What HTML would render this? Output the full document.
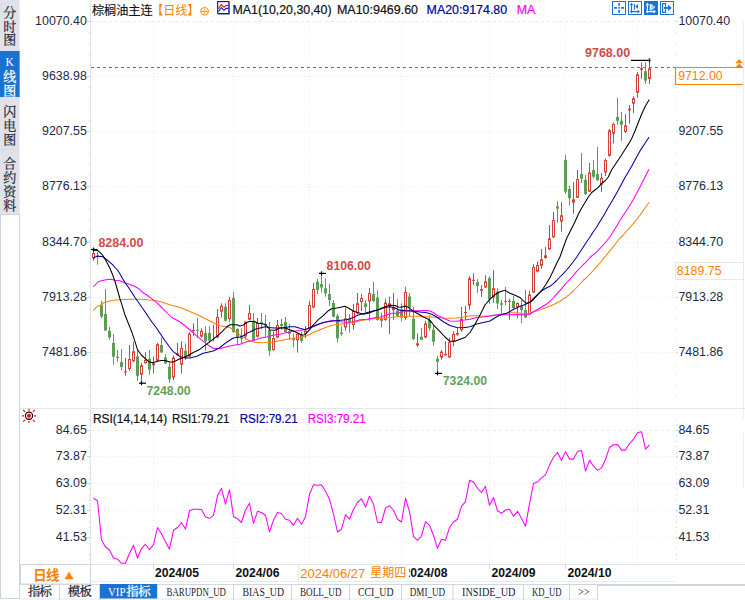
<!DOCTYPE html><html><head><meta charset="utf-8"><title>chart</title><style>html,body{margin:0;padding:0;background:#fff}body{width:745px;height:600px;overflow:hidden;font-family:"Liberation Sans",sans-serif}</style></head><body><svg width="745" height="600" viewBox="0 0 745 600" style="display:block">
<rect width="745" height="600" fill="#fff"/>
<rect x="0" y="0" width="19.6" height="214" fill="#e0e2ea"/>
<rect x="0" y="51" width="19.6" height="46" fill="#1a73d0"/>
<rect x="0" y="149" width="19.6" height="1" fill="#d5dde4"/>
<rect x="0.5" y="214.5" width="19" height="384" fill="#fff" stroke="#ccd4dd" stroke-width="1"/>
<text x="3.2" y="16.84" font-family="'Liberation Serif','Noto Serif CJK SC',serif" font-size="13" fill="#262c3a" stroke="#262c3a" stroke-width="0.25">分</text>
<text x="3.2" y="30.84" font-family="'Liberation Serif','Noto Serif CJK SC',serif" font-size="13" fill="#262c3a" stroke="#262c3a" stroke-width="0.25">时</text>
<text x="3.2" y="44.34" font-family="'Liberation Serif','Noto Serif CJK SC',serif" font-size="13" fill="#262c3a" stroke="#262c3a" stroke-width="0.25">图</text>
<text x="9.7" y="66.3" font-family="Liberation Serif" font-size="11.5" fill="#fff" text-anchor="middle">K</text>
<text x="3.2" y="81.14" font-family="'Liberation Serif','Noto Serif CJK SC',serif" font-size="13" fill="#fff" stroke="#fff" stroke-width="0.25">线</text>
<text x="3.2" y="95.14" font-family="'Liberation Serif','Noto Serif CJK SC',serif" font-size="13" fill="#fff" stroke="#fff" stroke-width="0.25">图</text>
<text x="3.2" y="115.84" font-family="'Liberation Serif','Noto Serif CJK SC',serif" font-size="13" fill="#262c3a" stroke="#262c3a" stroke-width="0.25">闪</text>
<text x="3.2" y="130.34" font-family="'Liberation Serif','Noto Serif CJK SC',serif" font-size="13" fill="#262c3a" stroke="#262c3a" stroke-width="0.25">电</text>
<text x="3.2" y="143.84" font-family="'Liberation Serif','Noto Serif CJK SC',serif" font-size="13" fill="#262c3a" stroke="#262c3a" stroke-width="0.25">图</text>
<text x="3.2" y="168.34" font-family="'Liberation Serif','Noto Serif CJK SC',serif" font-size="13" fill="#262c3a" stroke="#262c3a" stroke-width="0.25">合</text>
<text x="3.2" y="182.34" font-family="'Liberation Serif','Noto Serif CJK SC',serif" font-size="13" fill="#262c3a" stroke="#262c3a" stroke-width="0.25">约</text>
<text x="3.2" y="196.34" font-family="'Liberation Serif','Noto Serif CJK SC',serif" font-size="13" fill="#262c3a" stroke="#262c3a" stroke-width="0.25">资</text>
<text x="3.2" y="209.84" font-family="'Liberation Serif','Noto Serif CJK SC',serif" font-size="13" fill="#262c3a" stroke="#262c3a" stroke-width="0.25">料</text>
<rect x="90" y="0" width="1" height="564" fill="#dde4ec"/>
<rect x="743" y="21.7" width="1" height="396.5" fill="#e9eef4"/>
<rect x="743" y="433" width="1" height="55.5" fill="#e9eef4"/>
<rect x="20" y="408" width="725" height="1" fill="#dfe6ee"/>
<rect x="20" y="564" width="725" height="1" fill="#dfe6ee"/>
<rect x="90" y="581" width="585" height="1" fill="#e6ebf1"/>
<line x1="91" y1="21.5" x2="676" y2="21.5" stroke="#e8ecf1" stroke-dasharray="3 3"/>
<line x1="91" y1="76.5" x2="676" y2="76.5" stroke="#e8ecf1" stroke-dasharray="1 2"/>
<line x1="91" y1="131.5" x2="676" y2="131.5" stroke="#e8ecf1" stroke-dasharray="1 2"/>
<line x1="91" y1="186.5" x2="676" y2="186.5" stroke="#e8ecf1" stroke-dasharray="1 2"/>
<line x1="91" y1="242.5" x2="676" y2="242.5" stroke="#e8ecf1" stroke-dasharray="1 2"/>
<line x1="91" y1="297.5" x2="676" y2="297.5" stroke="#e8ecf1" stroke-dasharray="1 2"/>
<line x1="91" y1="352.5" x2="676" y2="352.5" stroke="#e8ecf1" stroke-dasharray="1 2"/>
<line x1="91" y1="430.5" x2="676" y2="430.5" stroke="#e8ecf1" stroke-dasharray="3 3"/>
<line x1="91" y1="456.5" x2="676" y2="456.5" stroke="#e8ecf1" stroke-dasharray="1 2"/>
<line x1="91" y1="483.5" x2="676" y2="483.5" stroke="#e8ecf1" stroke-dasharray="1 2"/>
<line x1="91" y1="510.5" x2="676" y2="510.5" stroke="#e8ecf1" stroke-dasharray="1 2"/>
<line x1="91" y1="537.5" x2="676" y2="537.5" stroke="#e8ecf1" stroke-dasharray="1 2"/>
<line x1="153.5" y1="22" x2="153.5" y2="564" stroke="#e8ecf1" stroke-dasharray="1 2"/>
<rect x="153" y="564" width="1" height="5" fill="#d5dce5"/>
<line x1="233.5" y1="22" x2="233.5" y2="564" stroke="#e8ecf1" stroke-dasharray="1 2"/>
<rect x="233" y="564" width="1" height="5" fill="#d5dce5"/>
<line x1="309.5" y1="22" x2="309.5" y2="564" stroke="#e8ecf1" stroke-dasharray="1 2"/>
<rect x="309" y="564" width="1" height="5" fill="#d5dce5"/>
<line x1="401.5" y1="22" x2="401.5" y2="564" stroke="#e8ecf1" stroke-dasharray="1 2"/>
<rect x="401" y="564" width="1" height="5" fill="#d5dce5"/>
<line x1="489.5" y1="22" x2="489.5" y2="564" stroke="#e8ecf1" stroke-dasharray="1 2"/>
<rect x="489" y="564" width="1" height="5" fill="#d5dce5"/>
<line x1="565.5" y1="22" x2="565.5" y2="564" stroke="#e8ecf1" stroke-dasharray="1 2"/>
<rect x="565" y="564" width="1" height="5" fill="#d5dce5"/>
<line x1="637.5" y1="22" x2="637.5" y2="564" stroke="#e8ecf1" stroke-dasharray="1 2"/>
<rect x="89" y="21" width="1" height="1" fill="#cfd6de"/>
<rect x="676" y="21" width="1" height="1" fill="#cfd6de"/>
<rect x="89" y="32.019999999999996" width="1" height="1" fill="#cfd6de"/>
<rect x="676" y="32.019999999999996" width="1" height="1" fill="#cfd6de"/>
<rect x="89" y="43.03999999999999" width="1" height="1" fill="#cfd6de"/>
<rect x="676" y="43.03999999999999" width="1" height="1" fill="#cfd6de"/>
<rect x="89" y="54.05999999999999" width="1" height="1" fill="#cfd6de"/>
<rect x="676" y="54.05999999999999" width="1" height="1" fill="#cfd6de"/>
<rect x="89" y="65.07999999999998" width="1" height="1" fill="#cfd6de"/>
<rect x="676" y="65.07999999999998" width="1" height="1" fill="#cfd6de"/>
<rect x="89" y="76.09999999999998" width="1" height="1" fill="#cfd6de"/>
<rect x="676" y="76.09999999999998" width="1" height="1" fill="#cfd6de"/>
<rect x="89" y="87.11999999999998" width="1" height="1" fill="#cfd6de"/>
<rect x="676" y="87.11999999999998" width="1" height="1" fill="#cfd6de"/>
<rect x="89" y="98.13999999999997" width="1" height="1" fill="#cfd6de"/>
<rect x="676" y="98.13999999999997" width="1" height="1" fill="#cfd6de"/>
<rect x="89" y="109.15999999999997" width="1" height="1" fill="#cfd6de"/>
<rect x="676" y="109.15999999999997" width="1" height="1" fill="#cfd6de"/>
<rect x="89" y="120.17999999999996" width="1" height="1" fill="#cfd6de"/>
<rect x="676" y="120.17999999999996" width="1" height="1" fill="#cfd6de"/>
<rect x="89" y="131.19999999999996" width="1" height="1" fill="#cfd6de"/>
<rect x="676" y="131.19999999999996" width="1" height="1" fill="#cfd6de"/>
<rect x="89" y="142.21999999999997" width="1" height="1" fill="#cfd6de"/>
<rect x="676" y="142.21999999999997" width="1" height="1" fill="#cfd6de"/>
<rect x="89" y="153.23999999999998" width="1" height="1" fill="#cfd6de"/>
<rect x="676" y="153.23999999999998" width="1" height="1" fill="#cfd6de"/>
<rect x="89" y="164.26" width="1" height="1" fill="#cfd6de"/>
<rect x="676" y="164.26" width="1" height="1" fill="#cfd6de"/>
<rect x="89" y="175.28" width="1" height="1" fill="#cfd6de"/>
<rect x="676" y="175.28" width="1" height="1" fill="#cfd6de"/>
<rect x="89" y="186.3" width="1" height="1" fill="#cfd6de"/>
<rect x="676" y="186.3" width="1" height="1" fill="#cfd6de"/>
<rect x="89" y="197.32000000000002" width="1" height="1" fill="#cfd6de"/>
<rect x="676" y="197.32000000000002" width="1" height="1" fill="#cfd6de"/>
<rect x="89" y="208.34000000000003" width="1" height="1" fill="#cfd6de"/>
<rect x="676" y="208.34000000000003" width="1" height="1" fill="#cfd6de"/>
<rect x="89" y="219.36000000000004" width="1" height="1" fill="#cfd6de"/>
<rect x="676" y="219.36000000000004" width="1" height="1" fill="#cfd6de"/>
<rect x="89" y="230.38000000000005" width="1" height="1" fill="#cfd6de"/>
<rect x="676" y="230.38000000000005" width="1" height="1" fill="#cfd6de"/>
<rect x="89" y="241.40000000000006" width="1" height="1" fill="#cfd6de"/>
<rect x="676" y="241.40000000000006" width="1" height="1" fill="#cfd6de"/>
<rect x="89" y="252.42000000000007" width="1" height="1" fill="#cfd6de"/>
<rect x="676" y="252.42000000000007" width="1" height="1" fill="#cfd6de"/>
<rect x="89" y="263.44000000000005" width="1" height="1" fill="#cfd6de"/>
<rect x="676" y="263.44000000000005" width="1" height="1" fill="#cfd6de"/>
<rect x="89" y="274.46000000000004" width="1" height="1" fill="#cfd6de"/>
<rect x="676" y="274.46000000000004" width="1" height="1" fill="#cfd6de"/>
<rect x="89" y="285.48" width="1" height="1" fill="#cfd6de"/>
<rect x="676" y="285.48" width="1" height="1" fill="#cfd6de"/>
<rect x="89" y="296.5" width="1" height="1" fill="#cfd6de"/>
<rect x="676" y="296.5" width="1" height="1" fill="#cfd6de"/>
<rect x="89" y="307.52" width="1" height="1" fill="#cfd6de"/>
<rect x="676" y="307.52" width="1" height="1" fill="#cfd6de"/>
<rect x="89" y="318.53999999999996" width="1" height="1" fill="#cfd6de"/>
<rect x="676" y="318.53999999999996" width="1" height="1" fill="#cfd6de"/>
<rect x="89" y="329.55999999999995" width="1" height="1" fill="#cfd6de"/>
<rect x="676" y="329.55999999999995" width="1" height="1" fill="#cfd6de"/>
<rect x="89" y="340.5799999999999" width="1" height="1" fill="#cfd6de"/>
<rect x="676" y="340.5799999999999" width="1" height="1" fill="#cfd6de"/>
<rect x="89" y="351.5999999999999" width="1" height="1" fill="#cfd6de"/>
<rect x="676" y="351.5999999999999" width="1" height="1" fill="#cfd6de"/>
<rect x="89" y="362.6199999999999" width="1" height="1" fill="#cfd6de"/>
<rect x="676" y="362.6199999999999" width="1" height="1" fill="#cfd6de"/>
<rect x="89" y="373.6399999999999" width="1" height="1" fill="#cfd6de"/>
<rect x="676" y="373.6399999999999" width="1" height="1" fill="#cfd6de"/>
<rect x="89" y="384.65999999999985" width="1" height="1" fill="#cfd6de"/>
<rect x="676" y="384.65999999999985" width="1" height="1" fill="#cfd6de"/>
<rect x="89" y="395.67999999999984" width="1" height="1" fill="#cfd6de"/>
<rect x="676" y="395.67999999999984" width="1" height="1" fill="#cfd6de"/>
<rect x="87" y="21" width="3" height="1" fill="#cfd6de"/>
<rect x="676" y="21" width="2" height="1" fill="#cfd6de"/>
<rect x="87" y="76" width="3" height="1" fill="#cfd6de"/>
<rect x="676" y="76" width="2" height="1" fill="#cfd6de"/>
<rect x="87" y="131" width="3" height="1" fill="#cfd6de"/>
<rect x="676" y="131" width="2" height="1" fill="#cfd6de"/>
<rect x="87" y="186" width="3" height="1" fill="#cfd6de"/>
<rect x="676" y="186" width="2" height="1" fill="#cfd6de"/>
<rect x="87" y="242" width="3" height="1" fill="#cfd6de"/>
<rect x="676" y="242" width="2" height="1" fill="#cfd6de"/>
<rect x="87" y="297" width="3" height="1" fill="#cfd6de"/>
<rect x="676" y="297" width="2" height="1" fill="#cfd6de"/>
<rect x="87" y="352" width="3" height="1" fill="#cfd6de"/>
<rect x="676" y="352" width="2" height="1" fill="#cfd6de"/>
<rect x="87" y="430" width="3" height="1" fill="#cfd6de"/>
<rect x="676" y="430" width="2" height="1" fill="#cfd6de"/>
<rect x="87" y="456" width="3" height="1" fill="#cfd6de"/>
<rect x="676" y="456" width="2" height="1" fill="#cfd6de"/>
<rect x="87" y="483" width="3" height="1" fill="#cfd6de"/>
<rect x="676" y="483" width="2" height="1" fill="#cfd6de"/>
<rect x="87" y="510" width="3" height="1" fill="#cfd6de"/>
<rect x="676" y="510" width="2" height="1" fill="#cfd6de"/>
<rect x="87" y="537" width="3" height="1" fill="#cfd6de"/>
<rect x="676" y="537" width="2" height="1" fill="#cfd6de"/>
<rect x="89" y="419.4" width="1" height="1" fill="#cfd6de"/>
<rect x="676" y="419.4" width="1" height="1" fill="#cfd6de"/>
<rect x="89" y="424.8" width="1" height="1" fill="#cfd6de"/>
<rect x="676" y="424.8" width="1" height="1" fill="#cfd6de"/>
<rect x="89" y="430.1" width="1" height="1" fill="#cfd6de"/>
<rect x="676" y="430.1" width="1" height="1" fill="#cfd6de"/>
<rect x="89" y="435.5" width="1" height="1" fill="#cfd6de"/>
<rect x="676" y="435.5" width="1" height="1" fill="#cfd6de"/>
<rect x="89" y="440.9" width="1" height="1" fill="#cfd6de"/>
<rect x="676" y="440.9" width="1" height="1" fill="#cfd6de"/>
<rect x="89" y="446.2" width="1" height="1" fill="#cfd6de"/>
<rect x="676" y="446.2" width="1" height="1" fill="#cfd6de"/>
<rect x="89" y="451.6" width="1" height="1" fill="#cfd6de"/>
<rect x="676" y="451.6" width="1" height="1" fill="#cfd6de"/>
<rect x="89" y="457.0" width="1" height="1" fill="#cfd6de"/>
<rect x="676" y="457.0" width="1" height="1" fill="#cfd6de"/>
<rect x="89" y="462.4" width="1" height="1" fill="#cfd6de"/>
<rect x="676" y="462.4" width="1" height="1" fill="#cfd6de"/>
<rect x="89" y="467.7" width="1" height="1" fill="#cfd6de"/>
<rect x="676" y="467.7" width="1" height="1" fill="#cfd6de"/>
<rect x="89" y="473.1" width="1" height="1" fill="#cfd6de"/>
<rect x="676" y="473.1" width="1" height="1" fill="#cfd6de"/>
<rect x="89" y="478.5" width="1" height="1" fill="#cfd6de"/>
<rect x="676" y="478.5" width="1" height="1" fill="#cfd6de"/>
<rect x="89" y="483.8" width="1" height="1" fill="#cfd6de"/>
<rect x="676" y="483.8" width="1" height="1" fill="#cfd6de"/>
<rect x="89" y="489.2" width="1" height="1" fill="#cfd6de"/>
<rect x="676" y="489.2" width="1" height="1" fill="#cfd6de"/>
<rect x="89" y="494.6" width="1" height="1" fill="#cfd6de"/>
<rect x="676" y="494.6" width="1" height="1" fill="#cfd6de"/>
<rect x="89" y="500.0" width="1" height="1" fill="#cfd6de"/>
<rect x="676" y="500.0" width="1" height="1" fill="#cfd6de"/>
<rect x="89" y="505.3" width="1" height="1" fill="#cfd6de"/>
<rect x="676" y="505.3" width="1" height="1" fill="#cfd6de"/>
<rect x="89" y="510.7" width="1" height="1" fill="#cfd6de"/>
<rect x="676" y="510.7" width="1" height="1" fill="#cfd6de"/>
<rect x="89" y="516.1" width="1" height="1" fill="#cfd6de"/>
<rect x="676" y="516.1" width="1" height="1" fill="#cfd6de"/>
<rect x="89" y="521.4" width="1" height="1" fill="#cfd6de"/>
<rect x="676" y="521.4" width="1" height="1" fill="#cfd6de"/>
<rect x="89" y="526.8" width="1" height="1" fill="#cfd6de"/>
<rect x="676" y="526.8" width="1" height="1" fill="#cfd6de"/>
<rect x="89" y="532.2" width="1" height="1" fill="#cfd6de"/>
<rect x="676" y="532.2" width="1" height="1" fill="#cfd6de"/>
<rect x="89" y="537.5" width="1" height="1" fill="#cfd6de"/>
<rect x="676" y="537.5" width="1" height="1" fill="#cfd6de"/>
<rect x="89" y="542.9" width="1" height="1" fill="#cfd6de"/>
<rect x="676" y="542.9" width="1" height="1" fill="#cfd6de"/>
<rect x="89" y="548.3" width="1" height="1" fill="#cfd6de"/>
<rect x="676" y="548.3" width="1" height="1" fill="#cfd6de"/>
<rect x="89" y="553.7" width="1" height="1" fill="#cfd6de"/>
<rect x="676" y="553.7" width="1" height="1" fill="#cfd6de"/>
<rect x="89" y="559.0" width="1" height="1" fill="#cfd6de"/>
<rect x="676" y="559.0" width="1" height="1" fill="#cfd6de"/>
<text x="86.8" y="25.0" font-family="Liberation Sans" font-size="12.4" fill="#1e2a44" font-weight="normal" text-anchor="end">10070.40</text>
<text x="678.4" y="25.0" font-family="Liberation Sans" font-size="12.4" fill="#1e2a44" font-weight="normal" text-anchor="start">10070.40</text>
<text x="86.8" y="80.0" font-family="Liberation Sans" font-size="12.4" fill="#1e2a44" font-weight="normal" text-anchor="end">9638.98</text>
<text x="678.4" y="80.0" font-family="Liberation Sans" font-size="12.4" fill="#1e2a44" font-weight="normal" text-anchor="start">9638.98</text>
<text x="86.8" y="135.0" font-family="Liberation Sans" font-size="12.4" fill="#1e2a44" font-weight="normal" text-anchor="end">9207.55</text>
<text x="678.4" y="135.0" font-family="Liberation Sans" font-size="12.4" fill="#1e2a44" font-weight="normal" text-anchor="start">9207.55</text>
<text x="86.8" y="190.0" font-family="Liberation Sans" font-size="12.4" fill="#1e2a44" font-weight="normal" text-anchor="end">8776.13</text>
<text x="678.4" y="190.0" font-family="Liberation Sans" font-size="12.4" fill="#1e2a44" font-weight="normal" text-anchor="start">8776.13</text>
<text x="86.8" y="246.0" font-family="Liberation Sans" font-size="12.4" fill="#1e2a44" font-weight="normal" text-anchor="end">8344.70</text>
<text x="678.4" y="246.0" font-family="Liberation Sans" font-size="12.4" fill="#1e2a44" font-weight="normal" text-anchor="start">8344.70</text>
<text x="86.8" y="301.0" font-family="Liberation Sans" font-size="12.4" fill="#1e2a44" font-weight="normal" text-anchor="end">7913.28</text>
<text x="678.4" y="301.0" font-family="Liberation Sans" font-size="12.4" fill="#1e2a44" font-weight="normal" text-anchor="start">7913.28</text>
<text x="86.8" y="356.0" font-family="Liberation Sans" font-size="12.4" fill="#1e2a44" font-weight="normal" text-anchor="end">7481.86</text>
<text x="678.4" y="356.0" font-family="Liberation Sans" font-size="12.4" fill="#1e2a44" font-weight="normal" text-anchor="start">7481.86</text>
<text x="86.8" y="434.0" font-family="Liberation Sans" font-size="12.4" fill="#1e2a44" font-weight="normal" text-anchor="end">84.65</text>
<text x="678.4" y="434.0" font-family="Liberation Sans" font-size="12.4" fill="#1e2a44" font-weight="normal" text-anchor="start">84.65</text>
<text x="86.8" y="460.0" font-family="Liberation Sans" font-size="12.4" fill="#1e2a44" font-weight="normal" text-anchor="end">73.87</text>
<text x="678.4" y="460.0" font-family="Liberation Sans" font-size="12.4" fill="#1e2a44" font-weight="normal" text-anchor="start">73.87</text>
<text x="86.8" y="487.0" font-family="Liberation Sans" font-size="12.4" fill="#1e2a44" font-weight="normal" text-anchor="end">63.09</text>
<text x="678.4" y="487.0" font-family="Liberation Sans" font-size="12.4" fill="#1e2a44" font-weight="normal" text-anchor="start">63.09</text>
<text x="86.8" y="514.0" font-family="Liberation Sans" font-size="12.4" fill="#1e2a44" font-weight="normal" text-anchor="end">52.31</text>
<text x="678.4" y="514.0" font-family="Liberation Sans" font-size="12.4" fill="#1e2a44" font-weight="normal" text-anchor="start">52.31</text>
<text x="86.8" y="541.0" font-family="Liberation Sans" font-size="12.4" fill="#1e2a44" font-weight="normal" text-anchor="end">41.53</text>
<text x="678.4" y="541.0" font-family="Liberation Sans" font-size="12.4" fill="#1e2a44" font-weight="normal" text-anchor="start">41.53</text>
<line x1="91" y1="67.5" x2="675" y2="67.5" stroke="#1584f0" stroke-width="1.2" stroke-dasharray="3 3"/>
<rect x="93" y="248.7" width="1" height="12.0" fill="#d4403a"/>
<rect x="92.5" y="253.5" width="2" height="4.0" fill="#fff" stroke="#d4403a" stroke-width="1"/>
<rect x="97" y="251.7" width="1" height="13.0" fill="#5c9e56"/>
<rect x="96" y="255.3" width="3" height="1.4" fill="#5c9e56"/>
<rect x="101" y="300.8" width="1" height="17.5" fill="#5c9e56"/>
<rect x="100" y="304.7" width="3" height="12.0" fill="#5c9e56"/>
<rect x="105" y="289.0" width="1" height="41.8" fill="#5c9e56"/>
<rect x="104" y="314.0" width="3" height="16.5" fill="#5c9e56"/>
<rect x="109" y="327.0" width="1" height="12.7" fill="#5c9e56"/>
<rect x="108" y="330.8" width="3" height="6.7" fill="#5c9e56"/>
<rect x="113" y="334.0" width="1" height="30.7" fill="#5c9e56"/>
<rect x="112" y="343.0" width="3" height="13.7" fill="#5c9e56"/>
<rect x="117" y="350.0" width="1" height="11.7" fill="#5c9e56"/>
<rect x="116" y="356.7" width="3" height="1.3" fill="#5c9e56"/>
<rect x="121" y="349.0" width="1" height="21.0" fill="#5c9e56"/>
<rect x="120" y="362.0" width="3" height="5.0" fill="#5c9e56"/>
<rect x="125" y="358.0" width="1" height="17.8" fill="#d4403a"/>
<rect x="124" y="371.3" width="3" height="1.2" fill="#d4403a"/>
<rect x="129" y="345.0" width="1" height="25.8" fill="#d4403a"/>
<rect x="128.5" y="359.5" width="2" height="9.0" fill="#fff" stroke="#d4403a" stroke-width="1"/>
<rect x="133" y="341.7" width="1" height="20.0" fill="#d4403a"/>
<rect x="132.5" y="351.8" width="2" height="9.0" fill="#fff" stroke="#d4403a" stroke-width="1"/>
<rect x="137" y="349.0" width="1" height="31.8" fill="#5c9e56"/>
<rect x="136" y="356.3" width="3" height="19.5" fill="#5c9e56"/>
<rect x="141" y="363.0" width="1" height="20.0" fill="#d4403a"/>
<rect x="140.5" y="365.8" width="2" height="8.4" fill="#fff" stroke="#d4403a" stroke-width="1"/>
<rect x="145" y="352.0" width="1" height="11.3" fill="#d4403a"/>
<rect x="144.5" y="360.2" width="2" height="2.6" fill="#fff" stroke="#d4403a" stroke-width="1"/>
<rect x="149" y="350.0" width="1" height="24.7" fill="#5c9e56"/>
<rect x="148" y="358.7" width="3" height="11.0" fill="#5c9e56"/>
<rect x="153" y="356.7" width="1" height="16.3" fill="#d4403a"/>
<rect x="152" y="363.3" width="3" height="2.0" fill="#d4403a"/>
<rect x="157" y="343.0" width="1" height="17.8" fill="#d4403a"/>
<rect x="156.5" y="344.7" width="2" height="15.6" fill="#fff" stroke="#d4403a" stroke-width="1"/>
<rect x="161" y="337.5" width="1" height="15.0" fill="#5c9e56"/>
<rect x="160" y="345.0" width="3" height="7.5" fill="#5c9e56"/>
<rect x="165" y="354.0" width="1" height="10.0" fill="#5c9e56"/>
<rect x="164" y="357.5" width="3" height="5.8" fill="#5c9e56"/>
<rect x="169" y="362.5" width="1" height="20.2" fill="#5c9e56"/>
<rect x="168" y="366.7" width="3" height="12.7" fill="#5c9e56"/>
<rect x="173" y="355.8" width="1" height="24.2" fill="#d4403a"/>
<rect x="172.5" y="358.0" width="2" height="19.0" fill="#fff" stroke="#d4403a" stroke-width="1"/>
<rect x="177" y="343.0" width="1" height="12.8" fill="#d4403a"/>
<rect x="176" y="353.3" width="3" height="2.0" fill="#d4403a"/>
<rect x="181" y="341.3" width="1" height="32.0" fill="#d4403a"/>
<rect x="180.5" y="348.5" width="2" height="15.7" fill="#fff" stroke="#d4403a" stroke-width="1"/>
<rect x="185" y="343.3" width="1" height="16.7" fill="#5c9e56"/>
<rect x="184" y="350.8" width="3" height="7.2" fill="#5c9e56"/>
<rect x="189" y="332.0" width="1" height="25.5" fill="#d4403a"/>
<rect x="188.5" y="334.2" width="2" height="22.0" fill="#fff" stroke="#d4403a" stroke-width="1"/>
<rect x="193" y="323.3" width="1" height="12.5" fill="#d4403a"/>
<rect x="192" y="330.0" width="3" height="1.0" fill="#d4403a"/>
<rect x="197" y="318.0" width="1" height="20.0" fill="#5c9e56"/>
<rect x="196" y="329.7" width="3" height="1.0" fill="#5c9e56"/>
<rect x="201" y="328.3" width="1" height="9.2" fill="#d4403a"/>
<rect x="200.5" y="331.3" width="2" height="4.9" fill="#fff" stroke="#d4403a" stroke-width="1"/>
<rect x="205" y="326.3" width="1" height="24.5" fill="#5c9e56"/>
<rect x="204" y="333.0" width="3" height="8.3" fill="#5c9e56"/>
<rect x="209" y="326.3" width="1" height="16.7" fill="#5c9e56"/>
<rect x="208" y="333.0" width="3" height="7.8" fill="#5c9e56"/>
<rect x="213" y="325.0" width="1" height="16.5" fill="#d4403a"/>
<rect x="217" y="309.0" width="1" height="29.3" fill="#d4403a"/>
<rect x="216.5" y="317.5" width="2" height="19.5" fill="#fff" stroke="#d4403a" stroke-width="1"/>
<rect x="221" y="303.3" width="1" height="14.2" fill="#d4403a"/>
<rect x="220.5" y="306.3" width="2" height="4.9" fill="#fff" stroke="#d4403a" stroke-width="1"/>
<rect x="225" y="303.3" width="1" height="18.4" fill="#5c9e56"/>
<rect x="224" y="306.7" width="3" height="14.1" fill="#5c9e56"/>
<rect x="229" y="296.7" width="1" height="25.0" fill="#d4403a"/>
<rect x="228.5" y="300.5" width="2" height="18.0" fill="#fff" stroke="#d4403a" stroke-width="1"/>
<rect x="233" y="292.0" width="1" height="41.0" fill="#5c9e56"/>
<rect x="232" y="298.0" width="3" height="34.0" fill="#5c9e56"/>
<rect x="237" y="328.3" width="1" height="17.0" fill="#5c9e56"/>
<rect x="236" y="329.0" width="3" height="8.5" fill="#5c9e56"/>
<rect x="241" y="328.3" width="1" height="14.7" fill="#5c9e56"/>
<rect x="240" y="336.7" width="3" height="2.0" fill="#5c9e56"/>
<rect x="245" y="321.3" width="1" height="18.2" fill="#d4403a"/>
<rect x="244.5" y="322.2" width="2" height="13.8" fill="#fff" stroke="#d4403a" stroke-width="1"/>
<rect x="249" y="305.0" width="1" height="15.0" fill="#d4403a"/>
<rect x="248.5" y="313.5" width="2" height="5.7" fill="#fff" stroke="#d4403a" stroke-width="1"/>
<rect x="253" y="313.0" width="1" height="28.3" fill="#5c9e56"/>
<rect x="252" y="320.8" width="3" height="19.5" fill="#5c9e56"/>
<rect x="257" y="318.0" width="1" height="19.5" fill="#d4403a"/>
<rect x="256.5" y="323.5" width="2" height="12.7" fill="#fff" stroke="#d4403a" stroke-width="1"/>
<rect x="261" y="313.0" width="1" height="16.5" fill="#5c9e56"/>
<rect x="260" y="322.0" width="3" height="2.0" fill="#5c9e56"/>
<rect x="265" y="315.0" width="1" height="22.3" fill="#5c9e56"/>
<rect x="264" y="324.0" width="3" height="1.5" fill="#5c9e56"/>
<rect x="269" y="322.0" width="1" height="33.8" fill="#5c9e56"/>
<rect x="268" y="330.0" width="3" height="20.8" fill="#5c9e56"/>
<rect x="273" y="331.5" width="1" height="19.3" fill="#d4403a"/>
<rect x="272.5" y="338.5" width="2" height="11.0" fill="#fff" stroke="#d4403a" stroke-width="1"/>
<rect x="277" y="320.0" width="1" height="18.3" fill="#d4403a"/>
<rect x="276.5" y="325.5" width="2" height="11.5" fill="#fff" stroke="#d4403a" stroke-width="1"/>
<rect x="281" y="319.0" width="1" height="11.0" fill="#5c9e56"/>
<rect x="280" y="324.0" width="3" height="2.0" fill="#5c9e56"/>
<rect x="285" y="317.0" width="1" height="16.0" fill="#5c9e56"/>
<rect x="284" y="322.0" width="3" height="10.0" fill="#5c9e56"/>
<rect x="289" y="324.0" width="1" height="16.0" fill="#5c9e56"/>
<rect x="288" y="331.3" width="3" height="2.7" fill="#5c9e56"/>
<rect x="293" y="333.3" width="1" height="14.2" fill="#5c9e56"/>
<rect x="292" y="338.0" width="3" height="2.3" fill="#5c9e56"/>
<rect x="297" y="333.0" width="1" height="19.5" fill="#d4403a"/>
<rect x="296.5" y="334.5" width="2" height="5.3" fill="#fff" stroke="#d4403a" stroke-width="1"/>
<rect x="301" y="332.0" width="1" height="11.0" fill="#5c9e56"/>
<rect x="300" y="334.7" width="3" height="6.1" fill="#5c9e56"/>
<rect x="305" y="326.2" width="1" height="11.8" fill="#d4403a"/>
<rect x="304.5" y="331.3" width="2" height="2.2" fill="#fff" stroke="#d4403a" stroke-width="1"/>
<rect x="309" y="300.8" width="1" height="29.2" fill="#d4403a"/>
<rect x="308.5" y="305.5" width="2" height="23.0" fill="#fff" stroke="#d4403a" stroke-width="1"/>
<rect x="313" y="283.0" width="1" height="25.3" fill="#d4403a"/>
<rect x="312.5" y="289.5" width="2" height="17.5" fill="#fff" stroke="#d4403a" stroke-width="1"/>
<rect x="317" y="278.7" width="1" height="15.3" fill="#5c9e56"/>
<rect x="316" y="281.7" width="3" height="8.3" fill="#5c9e56"/>
<rect x="321" y="271.7" width="1" height="20.8" fill="#5c9e56"/>
<rect x="320" y="284.0" width="3" height="3.5" fill="#5c9e56"/>
<rect x="325" y="278.3" width="1" height="18.4" fill="#5c9e56"/>
<rect x="324" y="288.3" width="3" height="5.0" fill="#5c9e56"/>
<rect x="329" y="284.0" width="1" height="21.8" fill="#5c9e56"/>
<rect x="328" y="294.0" width="3" height="6.0" fill="#5c9e56"/>
<rect x="333" y="300.0" width="1" height="17.5" fill="#5c9e56"/>
<rect x="332" y="303.0" width="3" height="13.7" fill="#5c9e56"/>
<rect x="337" y="314.0" width="1" height="28.5" fill="#5c9e56"/>
<rect x="336" y="315.8" width="3" height="22.5" fill="#5c9e56"/>
<rect x="341" y="326.3" width="1" height="9.5" fill="#5c9e56"/>
<rect x="340" y="332.5" width="3" height="1.5" fill="#5c9e56"/>
<rect x="345" y="307.5" width="1" height="23.3" fill="#d4403a"/>
<rect x="344.5" y="318.8" width="2" height="8.2" fill="#fff" stroke="#d4403a" stroke-width="1"/>
<rect x="349" y="314.0" width="1" height="18.5" fill="#5c9e56"/>
<rect x="348" y="319.0" width="3" height="2.5" fill="#5c9e56"/>
<rect x="353" y="304.0" width="1" height="25.7" fill="#d4403a"/>
<rect x="352.5" y="311.5" width="2" height="13.0" fill="#fff" stroke="#d4403a" stroke-width="1"/>
<rect x="357" y="293.0" width="1" height="21.0" fill="#d4403a"/>
<rect x="356.5" y="303.8" width="2" height="9.0" fill="#fff" stroke="#d4403a" stroke-width="1"/>
<rect x="361" y="294.0" width="1" height="17.0" fill="#d4403a"/>
<rect x="360.5" y="298.5" width="2" height="3.0" fill="#fff" stroke="#d4403a" stroke-width="1"/>
<rect x="365" y="300.0" width="1" height="14.0" fill="#5c9e56"/>
<rect x="364" y="303.3" width="3" height="3.7" fill="#5c9e56"/>
<rect x="369" y="288.0" width="1" height="32.8" fill="#d4403a"/>
<rect x="368.5" y="293.5" width="2" height="7.3" fill="#fff" stroke="#d4403a" stroke-width="1"/>
<rect x="373" y="282.0" width="1" height="19.7" fill="#5c9e56"/>
<rect x="372" y="294.0" width="3" height="7.3" fill="#5c9e56"/>
<rect x="377" y="290.3" width="1" height="30.5" fill="#5c9e56"/>
<rect x="376" y="297.5" width="3" height="22.5" fill="#5c9e56"/>
<rect x="381" y="312.5" width="1" height="15.0" fill="#5c9e56"/>
<rect x="380" y="318.0" width="3" height="2.8" fill="#5c9e56"/>
<rect x="385" y="299.0" width="1" height="21.8" fill="#d4403a"/>
<rect x="384.5" y="303.0" width="2" height="16.5" fill="#fff" stroke="#d4403a" stroke-width="1"/>
<rect x="389" y="296.7" width="1" height="37.3" fill="#d4403a"/>
<rect x="388.5" y="303.8" width="2" height="2.4" fill="#fff" stroke="#d4403a" stroke-width="1"/>
<rect x="393" y="293.0" width="1" height="27.0" fill="#d4403a"/>
<rect x="392.5" y="307.8" width="2" height="1.9" fill="#fff" stroke="#d4403a" stroke-width="1"/>
<rect x="397" y="299.0" width="1" height="17.7" fill="#5c9e56"/>
<rect x="396" y="310.5" width="3" height="5.5" fill="#5c9e56"/>
<rect x="401" y="303.3" width="1" height="18.0" fill="#5c9e56"/>
<rect x="400" y="309.0" width="3" height="8.5" fill="#5c9e56"/>
<rect x="405" y="287.0" width="1" height="33.0" fill="#d4403a"/>
<rect x="404.5" y="292.5" width="2" height="25.0" fill="#fff" stroke="#d4403a" stroke-width="1"/>
<rect x="409" y="293.0" width="1" height="23.0" fill="#5c9e56"/>
<rect x="408" y="296.5" width="3" height="11.0" fill="#5c9e56"/>
<rect x="413" y="307.0" width="1" height="33.0" fill="#5c9e56"/>
<rect x="412" y="318.7" width="3" height="20.3" fill="#5c9e56"/>
<rect x="417" y="333.3" width="1" height="13.7" fill="#d4403a"/>
<rect x="416" y="343.3" width="3" height="2.0" fill="#d4403a"/>
<rect x="421" y="328.0" width="1" height="12.0" fill="#5c9e56"/>
<rect x="420" y="336.7" width="3" height="3.0" fill="#5c9e56"/>
<rect x="425" y="320.8" width="1" height="17.2" fill="#d4403a"/>
<rect x="424.5" y="323.8" width="2" height="13.2" fill="#fff" stroke="#d4403a" stroke-width="1"/>
<rect x="429" y="315.0" width="1" height="15.8" fill="#5c9e56"/>
<rect x="428" y="320.0" width="3" height="8.3" fill="#5c9e56"/>
<rect x="433" y="325.3" width="1" height="20.5" fill="#5c9e56"/>
<rect x="432" y="329.7" width="3" height="12.0" fill="#5c9e56"/>
<rect x="437" y="356.0" width="1" height="17.5" fill="#5c9e56"/>
<rect x="436" y="358.7" width="3" height="3.1" fill="#5c9e56"/>
<rect x="441" y="350.0" width="1" height="9.7" fill="#d4403a"/>
<rect x="440.5" y="352.2" width="2" height="4.8" fill="#fff" stroke="#d4403a" stroke-width="1"/>
<rect x="445" y="341.3" width="1" height="14.5" fill="#d4403a"/>
<rect x="444" y="354.0" width="3" height="1.3" fill="#d4403a"/>
<rect x="449" y="337.5" width="1" height="20.0" fill="#d4403a"/>
<rect x="448.5" y="342.5" width="2" height="14.5" fill="#fff" stroke="#d4403a" stroke-width="1"/>
<rect x="453" y="331.3" width="1" height="15.0" fill="#d4403a"/>
<rect x="452.5" y="334.5" width="2" height="6.7" fill="#fff" stroke="#d4403a" stroke-width="1"/>
<rect x="457" y="327.5" width="1" height="8.3" fill="#d4403a"/>
<rect x="456" y="333.0" width="3" height="1.7" fill="#d4403a"/>
<rect x="461" y="307.0" width="1" height="24.7" fill="#d4403a"/>
<rect x="460.5" y="319.2" width="2" height="10.3" fill="#fff" stroke="#d4403a" stroke-width="1"/>
<rect x="465" y="305.8" width="1" height="14.2" fill="#d4403a"/>
<rect x="464" y="312.0" width="3" height="1.0" fill="#d4403a"/>
<rect x="469" y="276.2" width="1" height="33.5" fill="#d4403a"/>
<rect x="468.5" y="278.7" width="2" height="26.3" fill="#fff" stroke="#d4403a" stroke-width="1"/>
<rect x="473" y="273.2" width="1" height="11.6" fill="#d4403a"/>
<rect x="472" y="279.8" width="3" height="1.0" fill="#d4403a"/>
<rect x="477" y="279.2" width="1" height="13.6" fill="#5c9e56"/>
<rect x="476" y="282.2" width="3" height="3.6" fill="#5c9e56"/>
<rect x="481" y="285.2" width="1" height="11.6" fill="#d4403a"/>
<rect x="480" y="289.2" width="3" height="1.6" fill="#d4403a"/>
<rect x="485" y="275.2" width="1" height="12.6" fill="#d4403a"/>
<rect x="484.5" y="282.0" width="2" height="5.0" fill="#fff" stroke="#d4403a" stroke-width="1"/>
<rect x="489" y="276.2" width="1" height="27.6" fill="#5c9e56"/>
<rect x="488" y="278.0" width="3" height="21.5" fill="#5c9e56"/>
<rect x="493" y="270.2" width="1" height="32.6" fill="#d4403a"/>
<rect x="492.5" y="288.7" width="2" height="8.3" fill="#fff" stroke="#d4403a" stroke-width="1"/>
<rect x="497" y="288.2" width="1" height="20.8" fill="#5c9e56"/>
<rect x="496" y="291.5" width="3" height="12.0" fill="#5c9e56"/>
<rect x="501" y="300.0" width="1" height="14.0" fill="#5c9e56"/>
<rect x="500" y="303.2" width="3" height="1.6" fill="#5c9e56"/>
<rect x="505" y="287.0" width="1" height="18.5" fill="#5c9e56"/>
<rect x="504" y="301.0" width="3" height="1.0" fill="#5c9e56"/>
<rect x="509" y="298.7" width="1" height="21.0" fill="#d4403a"/>
<rect x="508" y="300.8" width="3" height="1.0" fill="#d4403a"/>
<rect x="513" y="295.8" width="1" height="14.2" fill="#5c9e56"/>
<rect x="512" y="301.0" width="3" height="7.0" fill="#5c9e56"/>
<rect x="517" y="302.5" width="1" height="15.5" fill="#d4403a"/>
<rect x="516.5" y="303.5" width="2" height="3.0" fill="#fff" stroke="#d4403a" stroke-width="1"/>
<rect x="521" y="300.5" width="1" height="22.7" fill="#5c9e56"/>
<rect x="520" y="305.8" width="3" height="4.2" fill="#5c9e56"/>
<rect x="525" y="290.0" width="1" height="28.0" fill="#5c9e56"/>
<rect x="524" y="310.0" width="3" height="7.5" fill="#5c9e56"/>
<rect x="529" y="290.8" width="1" height="24.2" fill="#d4403a"/>
<rect x="528.5" y="295.0" width="2" height="18.5" fill="#fff" stroke="#d4403a" stroke-width="1"/>
<rect x="533" y="264.0" width="1" height="29.0" fill="#d4403a"/>
<rect x="532.5" y="267.5" width="2" height="24.5" fill="#fff" stroke="#d4403a" stroke-width="1"/>
<rect x="537" y="261.4" width="1" height="11.2" fill="#d4403a"/>
<rect x="536.5" y="265.5" width="2" height="5.7" fill="#fff" stroke="#d4403a" stroke-width="1"/>
<rect x="541" y="249.0" width="1" height="19.6" fill="#d4403a"/>
<rect x="540.5" y="259.8" width="2" height="5.4" fill="#fff" stroke="#d4403a" stroke-width="1"/>
<rect x="545" y="247.0" width="1" height="11.7" fill="#d4403a"/>
<rect x="544.5" y="255.8" width="2" height="1.7" fill="#fff" stroke="#d4403a" stroke-width="1"/>
<rect x="549" y="225.0" width="1" height="24.7" fill="#d4403a"/>
<rect x="548.5" y="238.8" width="2" height="10.1" fill="#fff" stroke="#d4403a" stroke-width="1"/>
<rect x="553" y="212.0" width="1" height="25.7" fill="#d4403a"/>
<rect x="552.5" y="220.5" width="2" height="16.4" fill="#fff" stroke="#d4403a" stroke-width="1"/>
<rect x="557" y="201.0" width="1" height="21.7" fill="#5c9e56"/>
<rect x="556" y="206.3" width="3" height="2.3" fill="#5c9e56"/>
<rect x="561" y="202.3" width="1" height="29.4" fill="#d4403a"/>
<rect x="560.5" y="215.8" width="2" height="5.4" fill="#fff" stroke="#d4403a" stroke-width="1"/>
<rect x="565" y="155.0" width="1" height="38.7" fill="#5c9e56"/>
<rect x="564" y="160.0" width="3" height="31.7" fill="#5c9e56"/>
<rect x="569" y="185.8" width="1" height="19.9" fill="#5c9e56"/>
<rect x="568" y="189.0" width="3" height="9.3" fill="#5c9e56"/>
<rect x="573" y="182.0" width="1" height="31.7" fill="#d4403a"/>
<rect x="572.5" y="199.8" width="2" height="2.4" fill="#fff" stroke="#d4403a" stroke-width="1"/>
<rect x="577" y="170.0" width="1" height="28.0" fill="#d4403a"/>
<rect x="576.5" y="179.5" width="2" height="17.7" fill="#fff" stroke="#d4403a" stroke-width="1"/>
<rect x="581" y="153.0" width="1" height="30.0" fill="#5c9e56"/>
<rect x="580" y="174.0" width="3" height="4.7" fill="#5c9e56"/>
<rect x="585" y="175.0" width="1" height="20.0" fill="#5c9e56"/>
<rect x="584" y="179.7" width="3" height="14.3" fill="#5c9e56"/>
<rect x="589" y="163.0" width="1" height="29.0" fill="#d4403a"/>
<rect x="588.5" y="173.0" width="2" height="18.2" fill="#fff" stroke="#d4403a" stroke-width="1"/>
<rect x="593" y="160.0" width="1" height="18.7" fill="#5c9e56"/>
<rect x="592" y="170.0" width="3" height="6.7" fill="#5c9e56"/>
<rect x="597" y="147.0" width="1" height="33.8" fill="#5c9e56"/>
<rect x="596" y="174.0" width="3" height="6.3" fill="#5c9e56"/>
<rect x="601" y="173.0" width="1" height="19.0" fill="#d4403a"/>
<rect x="600.5" y="178.5" width="2" height="5.7" fill="#fff" stroke="#d4403a" stroke-width="1"/>
<rect x="605" y="158.7" width="1" height="17.1" fill="#d4403a"/>
<rect x="604.5" y="160.5" width="2" height="11.5" fill="#fff" stroke="#d4403a" stroke-width="1"/>
<rect x="609" y="129.0" width="1" height="27.7" fill="#d4403a"/>
<rect x="608.5" y="130.8" width="2" height="24.5" fill="#fff" stroke="#d4403a" stroke-width="1"/>
<rect x="613" y="122.5" width="1" height="20.8" fill="#d4403a"/>
<rect x="612.5" y="124.5" width="2" height="8.7" fill="#fff" stroke="#d4403a" stroke-width="1"/>
<rect x="617" y="98.0" width="1" height="26.7" fill="#5c9e56"/>
<rect x="616" y="117.0" width="3" height="3.8" fill="#5c9e56"/>
<rect x="621" y="112.0" width="1" height="28.8" fill="#5c9e56"/>
<rect x="620" y="120.8" width="3" height="3.9" fill="#5c9e56"/>
<rect x="625" y="114.0" width="1" height="19.0" fill="#d4403a"/>
<rect x="624.5" y="125.8" width="2" height="5.7" fill="#fff" stroke="#d4403a" stroke-width="1"/>
<rect x="629" y="105.0" width="1" height="18.7" fill="#d4403a"/>
<rect x="628" y="108.7" width="3" height="1.6" fill="#d4403a"/>
<rect x="633" y="96.3" width="1" height="16.7" fill="#d4403a"/>
<rect x="632.5" y="98.8" width="2" height="4.4" fill="#fff" stroke="#d4403a" stroke-width="1"/>
<rect x="637" y="72.0" width="1" height="25.7" fill="#d4403a"/>
<rect x="636.5" y="74.7" width="2" height="17.5" fill="#fff" stroke="#d4403a" stroke-width="1"/>
<rect x="641" y="62.3" width="1" height="16.5" fill="#d4403a"/>
<rect x="640" y="68.2" width="3" height="1.6" fill="#d4403a"/>
<rect x="645" y="62.3" width="1" height="21.5" fill="#5c9e56"/>
<rect x="644" y="71.2" width="3" height="9.5" fill="#5c9e56"/>
<rect x="649" y="61.7" width="1" height="22.2" fill="#d4403a"/>
<rect x="648.5" y="68.8" width="2" height="9.6" fill="#fff" stroke="#d4403a" stroke-width="1"/>
<polyline fill="none" stroke="#ff8000" stroke-width="1.05" stroke-linejoin="round" points="93.5,310.7 96.0,307.7 98.0,305.8 100.0,305.8 103.3,303.0 106.7,301.7 111.7,300.5 116.7,300.0 125.0,299.5 133.3,299.3 141.7,299.3 150.0,300.0 156.7,300.8 161.7,302.0 166.7,303.7 171.7,305.3 176.7,306.5 180.0,307.5 190.0,311.5 200.0,316.0 210.0,321.0 215.0,323.7 220.0,325.8 230.0,327.5 240.0,335.0 250.0,341.0 255.0,342.3 260.0,342.7 266.7,342.5 273.3,342.0 280.0,340.7 286.7,339.3 293.3,338.3 300.0,337.5 306.7,335.7 313.3,332.5 320.0,329.7 326.7,327.0 333.3,325.0 340.0,324.2 346.7,323.3 353.3,322.5 360.0,320.8 366.7,319.7 373.3,318.7 380.0,318.3 386.7,318.0 393.3,317.2 400.0,316.5 406.7,316.2 413.3,316.2 420.0,316.3 426.7,316.8 433.3,317.3 436.7,317.2 443.3,318.0 450.0,318.3 456.7,318.0 463.3,317.0 470.0,315.8 476.7,315.7 483.3,316.3 490.0,315.8 496.7,314.7 503.3,313.7 510.0,312.7 516.7,312.7 523.3,313.7 526.7,313.5 530.0,313.2 533.3,312.0 540.0,309.7 546.7,307.5 553.3,304.7 560.0,301.3 566.7,296.7 570.0,294.2 573.3,291.0 576.7,287.5 580.0,284.0 583.3,280.3 586.7,277.5 590.0,274.2 593.3,270.5 596.7,266.7 600.0,263.0 603.3,258.7 606.7,254.7 610.0,250.7 613.3,246.7 616.7,242.2 620.0,238.0 623.3,235.0 626.7,231.0 630.0,227.3 633.3,223.7 636.7,219.5 640.0,215.3 645.0,208.0 649.0,202.3"/>
<polyline fill="none" stroke="#ff00ff" stroke-width="1.05" stroke-linejoin="round" points="93.5,286.7 96.0,284.0 98.5,281.5 102.5,280.5 107.5,279.5 111.0,279.3 115.0,280.3 120.0,280.8 125.0,283.0 130.0,284.5 135.0,286.5 140.0,289.5 141.7,291.7 146.7,295.0 151.7,298.7 156.7,302.7 161.7,307.5 166.7,312.5 171.7,317.5 176.7,320.0 180.0,322.0 184.0,325.0 190.0,330.0 196.0,335.3 202.0,340.3 206.7,344.2 213.3,348.3 220.0,348.7 226.7,346.7 233.3,345.3 240.0,344.2 246.7,341.7 253.3,340.5 260.0,338.3 266.7,337.0 273.3,335.3 280.0,334.2 286.7,332.5 293.3,331.2 300.0,330.5 306.7,329.0 313.3,326.7 320.0,323.7 326.7,321.7 333.3,320.3 340.0,321.7 346.7,322.2 353.3,321.7 360.0,319.7 366.7,319.2 373.3,318.0 380.0,317.0 386.7,315.0 391.7,313.3 398.3,313.3 403.3,311.3 410.0,310.8 416.7,310.7 423.3,310.5 428.3,310.5 433.3,312.5 436.7,315.0 443.3,318.3 450.0,321.0 456.7,321.3 463.3,320.3 470.0,319.3 476.7,317.5 483.3,317.0 490.0,316.0 496.7,315.0 503.3,314.7 510.0,314.7 516.7,314.5 523.3,314.7 526.7,314.7 530.0,314.3 533.3,311.7 540.0,308.0 546.7,304.0 550.0,301.3 553.3,298.0 556.7,294.2 560.0,290.3 563.3,286.7 566.7,282.5 570.0,279.2 573.3,275.5 576.7,271.3 580.0,268.0 583.3,264.7 586.7,261.3 590.0,257.5 593.3,254.7 596.7,252.0 600.0,248.3 603.3,245.0 606.7,241.0 610.0,236.7 613.3,231.5 616.7,226.0 620.0,220.5 623.3,215.3 626.7,210.3 630.0,205.0 633.3,199.5 636.7,193.3 640.0,187.0 645.0,177.0 649.0,169.3"/>
<polyline fill="none" stroke="#00009c" stroke-width="1.05" stroke-linejoin="round" points="93.5,259.0 95.0,257.0 97.5,256.3 102.5,256.5 105.0,258.5 107.5,260.3 110.0,262.3 112.5,264.7 115.0,267.5 117.5,270.0 120.0,274.0 122.5,278.5 125.0,282.5 127.5,286.0 130.0,289.8 132.5,293.5 135.0,297.5 137.5,301.0 140.0,304.5 141.7,307.0 146.7,314.2 151.7,321.7 156.7,328.3 160.0,333.3 165.0,340.8 170.0,347.5 173.3,351.7 176.7,354.2 180.0,356.7 185.0,358.0 190.0,358.0 196.7,356.3 203.3,353.3 210.0,351.7 213.3,351.0 220.0,347.5 226.7,342.2 233.3,338.0 240.0,337.0 243.3,335.8 246.7,333.3 250.0,332.0 255.0,329.2 260.0,328.0 265.0,326.7 268.3,327.5 275.0,328.0 283.3,327.7 290.0,326.7 295.0,326.7 300.0,328.3 305.0,329.7 310.0,327.5 316.7,324.7 323.3,322.5 330.0,321.3 336.7,320.7 343.3,320.0 346.7,319.7 353.3,317.5 358.3,315.0 365.0,313.3 371.7,311.3 378.3,309.7 385.0,307.5 390.0,306.7 395.0,308.0 400.0,310.3 406.7,310.8 413.3,311.3 420.0,312.0 426.7,312.8 431.7,314.2 436.7,317.0 443.3,321.7 450.0,325.5 456.7,327.5 463.3,327.8 470.0,326.7 476.7,324.0 483.3,322.5 490.0,321.0 496.7,316.7 500.0,315.0 506.7,313.3 513.3,309.5 520.0,306.3 523.3,305.3 526.7,303.7 530.0,302.0 533.3,298.7 536.7,295.3 540.0,292.0 543.3,289.7 546.7,287.7 550.0,286.3 553.3,283.7 556.7,280.5 560.0,277.0 563.3,273.7 566.7,270.0 570.0,266.0 573.3,261.7 576.7,257.0 580.0,252.0 583.3,247.0 586.7,241.7 590.0,237.0 593.3,231.7 596.7,227.0 598.3,224.2 601.7,218.7 605.0,213.3 608.3,207.3 611.7,201.7 615.0,196.0 618.3,190.0 621.7,183.7 625.0,177.5 628.3,172.0 631.7,166.2 635.0,160.0 638.3,154.0 640.0,150.9 645.0,143.3 649.0,137.3"/>
<polyline fill="none" stroke="#000000" stroke-width="1.05" stroke-linejoin="round" points="93.5,250.2 97.5,250.4 100.0,252.4 102.5,255.0 105.0,259.0 107.5,263.5 110.0,268.5 112.5,274.5 115.0,281.5 117.5,290.0 120.0,299.0 121.7,304.2 125.0,315.0 128.3,323.3 131.7,331.7 135.0,341.7 137.3,349.2 141.3,355.0 145.3,358.7 149.3,362.0 153.3,362.7 157.3,361.3 161.3,360.5 165.3,360.5 170.0,362.0 173.3,362.0 180.0,358.7 186.7,356.3 193.3,352.5 200.0,349.2 206.7,344.2 213.3,339.2 220.0,333.7 226.7,327.0 230.0,324.7 236.7,324.7 240.0,326.0 243.3,325.0 246.7,322.5 250.0,321.2 255.0,321.7 258.3,323.3 265.0,324.2 268.3,327.5 270.0,330.0 275.0,330.3 280.0,328.0 285.0,327.7 288.3,329.2 293.3,331.0 297.5,333.0 301.7,335.0 305.0,334.7 308.3,331.2 313.3,325.0 318.3,319.7 323.3,315.7 328.3,310.7 331.7,308.7 336.7,308.0 341.7,307.0 345.0,306.3 348.3,308.0 353.3,311.0 358.3,312.8 363.3,314.2 368.3,313.3 373.3,311.2 378.3,309.7 383.3,307.5 386.7,306.2 390.0,305.3 395.0,305.5 398.3,307.0 401.7,307.2 405.0,306.0 408.3,307.3 413.3,311.2 418.3,314.0 423.3,317.0 428.3,319.2 431.7,322.5 435.0,326.7 440.0,331.7 445.0,337.0 450.0,341.3 455.0,341.3 460.0,339.2 465.0,337.5 470.0,332.5 475.0,324.2 480.0,315.0 485.0,305.0 490.0,299.2 495.0,294.5 500.0,291.7 505.0,290.3 510.0,293.3 515.0,295.3 520.0,297.5 523.3,300.8 526.7,303.3 530.0,302.5 533.3,299.7 536.7,296.0 540.0,292.5 543.3,288.3 546.7,283.3 550.0,277.5 553.3,270.8 556.7,263.3 560.0,256.7 563.3,247.5 566.7,238.3 570.0,231.7 571.7,228.3 575.0,221.7 578.3,214.2 581.7,208.0 585.0,202.5 588.3,197.0 591.7,192.5 595.0,190.0 598.3,187.3 601.7,183.3 605.0,181.0 608.3,177.0 611.7,169.7 615.0,164.7 618.3,160.0 621.7,154.7 625.0,149.5 628.3,144.4 631.7,138.5 635.0,131.0 638.3,122.5 641.7,114.0 645.0,106.7 648.3,101.2 649.2,99.5"/>
<rect x="91" y="248.9" width="6.5" height="1.2" fill="#000"/>
<rect x="92.9" y="247.5" width="1.2" height="4" fill="#000"/>
<rect x="139" y="382.6" width="7" height="1.2" fill="#000"/>
<rect x="140.9" y="381.2" width="1.2" height="4" fill="#000"/>
<rect x="319" y="272.8" width="7" height="1.2" fill="#000"/>
<rect x="320.9" y="271.4" width="1.2" height="4" fill="#000"/>
<rect x="435" y="372.8" width="7" height="1.2" fill="#000"/>
<rect x="436.9" y="371.4" width="1.2" height="4" fill="#000"/>
<rect x="631" y="59.8" width="19.5" height="1.2" fill="#000"/>
<rect x="648.9" y="58.4" width="1.2" height="4" fill="#000"/>
<text x="98.4" y="246.6" font-family="Liberation Sans" font-size="12" fill="#d24a48" font-weight="bold" text-anchor="start" textLength="45" lengthAdjust="spacingAndGlyphs">8284.00</text>
<text x="326.6" y="269.9" font-family="Liberation Sans" font-size="12" fill="#d24a48" font-weight="bold" text-anchor="start" textLength="44.2" lengthAdjust="spacingAndGlyphs">8106.00</text>
<text x="585" y="56.8" font-family="Liberation Sans" font-size="12" fill="#d24a48" font-weight="bold" text-anchor="start" textLength="45.2" lengthAdjust="spacingAndGlyphs">9768.00</text>
<text x="146.4" y="394.8" font-family="Liberation Sans" font-size="12" fill="#62a25a" font-weight="bold" text-anchor="start" textLength="44.3" lengthAdjust="spacingAndGlyphs">7248.00</text>
<text x="442.8" y="384.9" font-family="Liberation Sans" font-size="12" fill="#62a25a" font-weight="bold" text-anchor="start" textLength="44.2" lengthAdjust="spacingAndGlyphs">7324.00</text>
<path d="M743 67.5H675.5V84.5H743" fill="#fff" stroke="#ff8000" stroke-width="1.2"/>
<text x="678.2" y="80.2" font-family="Liberation Sans" font-size="12.3" fill="#ff8000" font-weight="normal" text-anchor="start">9712.00</text>
<path d="M735.3 63.2 L739.2 59.2 L743.1 63.2 Z M735.3 67.4 L739.2 63.4 L743.1 67.4 Z" fill="#ff8000"/>
<rect x="675.5" y="262.5" width="68" height="17" fill="#fff" stroke="#e3e9f0" stroke-width="1"/>
<text x="676.8" y="275" font-family="Liberation Sans" font-size="12.4" fill="#ff8000" font-weight="normal" text-anchor="start">8189.75</text>
<text x="92 104.1 116.2 128.3 140.4" y="14.54" font-family="'Liberation Sans','Noto Sans CJK SC',sans-serif" font-size="12.2" fill="#111" stroke="#111" stroke-width="0.15">棕榈油主连</text>
<text x="151.2 163.2 175.2 187.2" y="14.54" font-family="'Liberation Sans','Noto Sans CJK SC',sans-serif" font-size="12.2" fill="#ff8000">【日线】</text>
<circle cx="204.6" cy="11.3" r="3.9" fill="none" stroke="#ff8000" stroke-width="0.9"/><path d="M200.7 11.3H208.5" stroke="#ff8000" stroke-width="0.9" fill="none"/><path d="M204.6 7.4V15.2" stroke="#ff8000" stroke-width="0.6" fill="none"/>
<rect x="218.3" y="2.3" width="11.4" height="12.2" fill="#6a6a9a"/>
<rect x="217.7" y="1.6" width="11.2" height="12" fill="#fff" stroke="#10108c" stroke-width="1.1"/>
<polyline points="218.3,8.8 221.3,4.6 224,7.2 226.4,5.4 228.3,5.4" fill="none" stroke="#f01010" stroke-width="1.1"/>
<polyline points="218.3,11.8 221.3,7.6 224,10.3 226.4,8.4 228.3,8.4" fill="none" stroke="#1010f0" stroke-width="1.1"/>
<text x="232.5" y="14" font-family="Liberation Sans" font-size="12" fill="#111" font-weight="normal" text-anchor="start" textLength="99" lengthAdjust="spacingAndGlyphs" stroke="#111" stroke-width="0.2">MA1(10,20,30,40)</text>
<text x="337" y="14" font-family="Liberation Sans" font-size="12" fill="#111" font-weight="normal" text-anchor="start" textLength="81" lengthAdjust="spacingAndGlyphs" stroke="#111" stroke-width="0.2">MA10:9469.60</text>
<text x="426.6" y="14" font-family="Liberation Sans" font-size="12" fill="#00009c" font-weight="normal" text-anchor="start" textLength="80.5" lengthAdjust="spacingAndGlyphs" stroke="#00009c" stroke-width="0.2">MA20:9174.80</text>
<text x="516.7" y="14" font-family="Liberation Sans" font-size="12" fill="#ff00ff" font-weight="normal" text-anchor="start" textLength="18.7" lengthAdjust="spacingAndGlyphs" stroke="#ff00ff" stroke-width="0.2">MA</text>
<rect x="612.5" y="1.5" width="13" height="13" fill="#fff" stroke="#1a74d2" stroke-width="1"/>
<path d="M614.1 7.8H616.9M618.3 7.8H619.9M621.2 7.8H624" stroke="#1a74d2" stroke-width="1.7" fill="none"/><path d="M619.1 3.1V5.7M619.1 9.9V12.8" stroke="#1a74d2" stroke-width="1.7" fill="none"/>
<rect x="628.5" y="1.5" width="13" height="13" fill="#fff" stroke="#1a74d2" stroke-width="1"/>
<path d="M631.5 3.6V12.6M634.5 4.1V9.7" stroke="#1a74d2" stroke-width="1.2" fill="none"/><path d="M630.2 11.6H639.2" stroke="#1a74d2" stroke-width="1.3" fill="none"/>
<path d="M629.7 5.3L631.5 2.8L633.3 5.3Z M637.6 9.8L640 11.6L637.6 13.4Z M630.3 11.4L631.5 13.2L632.7 11.4Z M635.3 6.5L638 4V9Z" fill="#1a74d2"/>
<rect x="644.5" y="1.5" width="13" height="13" fill="#1a74d2" stroke="#1a74d2" stroke-width="1"/>
<path d="M647.4 3.6V12.6M650.3 4.1V10.4" stroke="#fff" stroke-width="1.2" fill="none"/><path d="M646.1 11.6H655" stroke="#fff" stroke-width="1.3" fill="none"/>
<path d="M645.6 5.3L647.4 2.8L649.2 5.3Z M653.5 9.8L655.9 11.6L653.5 13.4Z M646.2 11.4L647.4 13.2L648.6 11.4Z" fill="#fff"/>
<path d="M651.2 4.4L655 7.2L651.2 10Z" fill="#9cc6ee" stroke="#e8f2fb" stroke-width="0.8"/>
<rect x="660.5" y="1.5" width="13" height="13" fill="#fff" stroke="#1a74d2" stroke-width="1"/>
<rect x="662.6" y="3.6" width="2.9" height="8.8" fill="#fff" stroke="#1a74d2" stroke-width="1.2"/><path d="M664 7.9H669" stroke="#1a74d2" stroke-width="1.8" fill="none"/><path d="M668.1 4.6L671.7 7.9L668.1 11Z" fill="#1a74d2"/>
<circle cx="29" cy="415.8" r="3.6" fill="#fff" stroke="#000" stroke-width="1.15"/><circle cx="29" cy="415.8" r="2" fill="#f00"/>
<line x1="34.1" y1="415.8" x2="36.0" y2="415.8" stroke="#f00" stroke-width="1.2"/>
<line x1="33.0" y1="419.8" x2="34.8" y2="421.6" stroke="#f00" stroke-width="1.2"/>
<line x1="29.0" y1="420.9" x2="29.0" y2="422.8" stroke="#f00" stroke-width="1.2"/>
<line x1="25.0" y1="419.8" x2="23.2" y2="421.6" stroke="#f00" stroke-width="1.2"/>
<line x1="23.9" y1="415.8" x2="22.0" y2="415.8" stroke="#f00" stroke-width="1.2"/>
<line x1="25.0" y1="411.8" x2="23.2" y2="410.0" stroke="#f00" stroke-width="1.2"/>
<line x1="29.0" y1="410.7" x2="29.0" y2="408.8" stroke="#f00" stroke-width="1.2"/>
<line x1="33.0" y1="411.8" x2="34.8" y2="410.0" stroke="#f00" stroke-width="1.2"/>
<text x="92.9" y="422.6" font-family="Liberation Sans" font-size="12" fill="#111" font-weight="normal" text-anchor="start" textLength="74.3" lengthAdjust="spacingAndGlyphs" stroke="#111" stroke-width="0.2">RSI(14,14,14)</text>
<text x="171.9" y="422.6" font-family="Liberation Sans" font-size="12" fill="#111" font-weight="normal" text-anchor="start" textLength="57.6" lengthAdjust="spacingAndGlyphs" stroke="#111" stroke-width="0.2">RSI1:79.21</text>
<text x="239.7" y="422.6" font-family="Liberation Sans" font-size="12" fill="#00009c" font-weight="normal" text-anchor="start" textLength="58" lengthAdjust="spacingAndGlyphs" stroke="#00009c" stroke-width="0.2">RSI2:79.21</text>
<text x="307.7" y="422.6" font-family="Liberation Sans" font-size="12" fill="#ff00ff" font-weight="normal" text-anchor="start" textLength="58" lengthAdjust="spacingAndGlyphs" stroke="#ff00ff" stroke-width="0.2">RSI3:79.21</text>
<polyline fill="none" stroke="#ff00ff" stroke-width="1.05" stroke-linejoin="round" points="93.5,498.3 97.5,500.8 101.5,540.0 105.5,547.0 109.5,550.0 113.5,558.0 117.5,559.2 121.5,563.3 125.5,563.3 129.5,553.3 133.5,545.3 137.5,558.0 141.5,548.3 145.5,544.2 149.5,549.7 153.5,544.7 157.5,527.5 161.5,533.7 165.5,541.7 169.5,549.2 173.5,530.3 177.5,527.5 181.5,522.5 185.5,529.2 189.5,510.8 193.5,509.2 197.5,509.2 201.5,509.5 205.5,517.0 209.5,518.3 213.5,515.3 217.5,495.8 221.5,488.3 225.5,504.2 229.5,489.7 233.5,516.7 237.5,518.7 241.5,522.5 245.5,510.0 249.5,503.3 253.5,523.3 257.5,511.3 261.5,512.5 265.5,515.3 269.5,532.0 273.5,520.0 277.5,512.5 281.5,513.7 285.5,519.2 289.5,520.3 293.5,525.3 297.5,518.3 301.5,524.2 305.5,516.7 309.5,494.2 313.5,484.7 317.5,485.3 321.5,484.7 325.5,491.3 329.5,499.2 333.5,514.2 337.5,532.0 341.5,529.2 345.5,514.7 349.5,519.2 353.5,509.2 357.5,502.5 361.5,498.7 365.5,507.0 369.5,496.3 373.5,504.2 377.5,522.5 381.5,522.5 385.5,508.0 389.5,505.8 393.5,510.0 397.5,519.2 401.5,522.0 405.5,498.3 409.5,511.7 413.5,536.7 417.5,540.3 421.5,536.0 425.5,521.7 429.5,525.3 433.5,535.3 437.5,548.3 441.5,539.2 445.5,540.3 449.5,527.5 453.5,522.0 457.5,519.2 461.5,506.3 465.5,501.7 469.5,480.3 473.5,482.0 477.5,488.3 481.5,492.5 485.5,486.3 489.5,505.3 493.5,497.5 497.5,510.8 501.5,513.3 505.5,510.0 509.5,509.2 513.5,516.3 517.5,511.3 521.5,518.3 525.5,526.3 529.5,503.8 533.5,483.6 537.5,482.0 541.5,477.9 545.5,474.9 549.5,465.1 553.5,457.2 557.5,452.5 561.5,460.4 565.5,451.6 569.5,459.1 573.5,459.1 577.5,451.6 581.5,450.4 585.5,471.1 589.5,460.4 593.5,466.0 597.5,470.4 601.5,467.9 605.5,459.5 609.5,447.3 613.5,444.8 617.5,444.4 621.5,450.1 625.5,450.1 629.5,443.5 633.5,439.2 637.5,432.8 641.5,431.7 645.5,449.1 649.5,444.8"/>
<text x="155" y="577.2" font-family="Liberation Sans" font-size="12" fill="#111" font-weight="bold" text-anchor="start" textLength="44" lengthAdjust="spacingAndGlyphs">2024/05</text>
<text x="235.5" y="577.2" font-family="Liberation Sans" font-size="12" fill="#111" font-weight="bold" text-anchor="start" textLength="44" lengthAdjust="spacingAndGlyphs">2024/06</text>
<text x="403.5" y="577.2" font-family="Liberation Sans" font-size="12" fill="#111" font-weight="bold" text-anchor="start" textLength="44" lengthAdjust="spacingAndGlyphs">2024/08</text>
<text x="491.5" y="577.2" font-family="Liberation Sans" font-size="12" fill="#111" font-weight="bold" text-anchor="start" textLength="44" lengthAdjust="spacingAndGlyphs">2024/09</text>
<text x="567.5" y="577.2" font-family="Liberation Sans" font-size="12" fill="#111" font-weight="bold" text-anchor="start" textLength="44" lengthAdjust="spacingAndGlyphs">2024/10</text>
<rect x="298.5" y="565" width="110.5" height="16" fill="#fff"/>
<rect x="298" y="565" width="1" height="16" fill="#e3e9f0"/>
<text x="300.3" y="577.6" font-family="Liberation Sans" font-size="13" fill="#ff8000" font-weight="normal" text-anchor="start" textLength="65" lengthAdjust="spacingAndGlyphs">2024/06/27</text>
<text x="370.3 382.3 394.3" y="577.16" font-family="'Liberation Sans','Noto Sans CJK SC',sans-serif" font-size="12" fill="#ff8000">星期四</text>
<rect x="20.5" y="564.5" width="70" height="19.5" fill="#fff" stroke="#ccd4dd" stroke-width="1"/>
<text x="33.2 46.1" y="579.99" font-family="'Liberation Sans','Noto Sans CJK SC',sans-serif" font-size="13.4" font-weight="bold" fill="#ff8000">日线</text>
<path d="M64.5 579.2L69.1 571.8L73.7 579.2Z" fill="#ff8000"/>
<rect x="20" y="584" width="725" height="1" fill="#cfd6de"/>
<rect x="598" y="585" width="147" height="1" fill="#cfd6de"/>
<rect x="20" y="598.5" width="578" height="1" fill="#e3e8ee"/>
<rect x="100" y="584" width="57.2" height="14.5" fill="#1a73d0"/>
<rect x="59.0" y="585" width="1" height="15" fill="#cfd6de"/>
<rect x="99.0" y="585" width="1" height="15" fill="#cfd6de"/>
<rect x="233.0" y="585" width="1" height="15" fill="#cfd6de"/>
<rect x="291.0" y="585" width="1" height="15" fill="#cfd6de"/>
<rect x="349.0" y="585" width="1" height="15" fill="#cfd6de"/>
<rect x="401.0" y="585" width="1" height="15" fill="#cfd6de"/>
<rect x="452.5" y="585" width="1" height="15" fill="#cfd6de"/>
<rect x="523.0" y="585" width="1" height="15" fill="#cfd6de"/>
<rect x="569.0" y="585" width="1" height="15" fill="#cfd6de"/>
<rect x="597.0" y="585" width="1" height="15" fill="#cfd6de"/>
<text x="28 39.6" y="596.41" font-family="'Liberation Serif','Noto Serif CJK SC',serif" font-size="12.4" fill="#1c2230" stroke="#1c2230" stroke-width="0.25">指标</text>
<text x="67.8 79.6" y="596.41" font-family="'Liberation Serif','Noto Serif CJK SC',serif" font-size="12.4" fill="#1c2230" stroke="#1c2230" stroke-width="0.25">模板</text>
<text x="108" y="595.6" font-family="Liberation Serif" font-size="12.5" fill="#fff" textLength="17.5" lengthAdjust="spacingAndGlyphs">VIP</text>
<text x="126.3 138.3" y="596.41" font-family="'Liberation Serif','Noto Serif CJK SC',serif" font-size="12.4" fill="#fff" stroke="#fff" stroke-width="0.25">指标</text>
<text x="166.5" y="595.6" font-family="Liberation Serif" font-size="12.5" fill="#1c2230" textLength="59.5" lengthAdjust="spacingAndGlyphs">BARUPDN_UD</text>
<text x="242.5" y="595.6" font-family="Liberation Serif" font-size="12.5" fill="#1c2230" textLength="41.5" lengthAdjust="spacingAndGlyphs">BIAS_UD</text>
<text x="300" y="595.6" font-family="Liberation Serif" font-size="12.5" fill="#1c2230" textLength="41.5" lengthAdjust="spacingAndGlyphs">BOLL_UD</text>
<text x="358" y="595.6" font-family="Liberation Serif" font-size="12.5" fill="#1c2230" textLength="35.5" lengthAdjust="spacingAndGlyphs">CCI_UD</text>
<text x="409.7" y="595.6" font-family="Liberation Serif" font-size="12.5" fill="#1c2230" textLength="35.5" lengthAdjust="spacingAndGlyphs">DMI_UD</text>
<text x="462" y="595.6" font-family="Liberation Serif" font-size="12.5" fill="#1c2230" textLength="53.5" lengthAdjust="spacingAndGlyphs">INSIDE_UD</text>
<text x="532" y="595.6" font-family="Liberation Serif" font-size="12.5" fill="#1c2230" textLength="29.5" lengthAdjust="spacingAndGlyphs">KD_UD</text>
<text x="578" y="595.6" font-family="Liberation Serif" font-size="12.5" fill="#1c2230" textLength="11.5" lengthAdjust="spacingAndGlyphs">&gt;&gt;</text>
</svg></body></html>
